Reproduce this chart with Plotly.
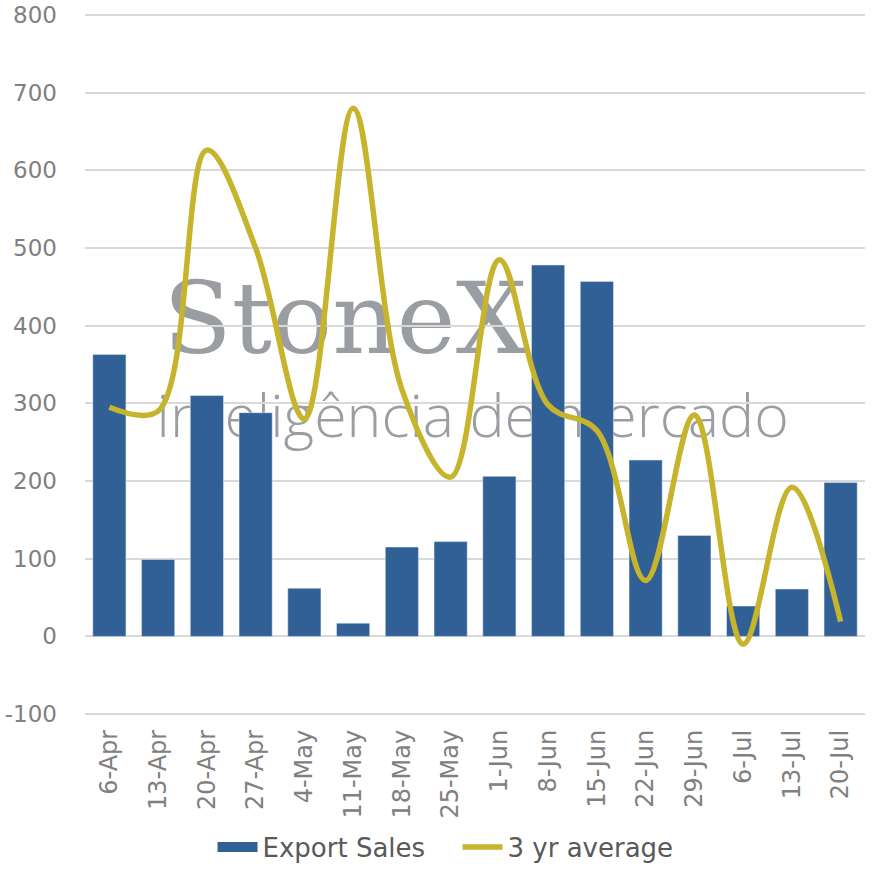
import plotly.graph_objects as go

categories = ["6-Apr", "13-Apr", "20-Apr", "27-Apr", "4-May", "11-May", "18-May", "25-May",
              "1-Jun", "8-Jun", "15-Jun", "22-Jun", "29-Jun", "6-Jul", "13-Jul", "20-Jul"]
export_sales = [363, 99, 310, 288, 62, 17, 115, 122, 206, 478, 457, 227, 130, 39, 61, 198]
avg_3yr = [295, 290, 626, 500, 280, 680, 318, 205, 485, 298, 265, 72, 285, -10, 192, 19]
y_ticks = [-100, 0, 100, 200, 300, 400, 500, 600, 700, 800]
y_tick_text = ["-100", "0", "100", "200", "300", "400", "500", "600", "700", "800"]

idx = list(range(len(categories)))
boundaries = [i - 0.5 for i in range(len(categories) + 1)]
BAR = "#316096"
LINE = "#C6B42C"
GRAY = "#808080"
FONT = "DejaVu Sans"
WM = "#9A9EA3"

Y_LO, Y_HI = -102.5, 802.5  # small padding so the end gridlines are drawn

fig = go.Figure()
fig.add_trace(go.Bar(x=idx, y=export_sales, name="Export Sales", marker_color=BAR,
                     width=0.68, showlegend=False))
# legend proxy for the bar series (wide rectangle swatch)
fig.add_trace(go.Scatter(x=[None], y=[None], name="Export Sales", mode="lines",
                         line=dict(color=BAR, width=16)))
fig.add_trace(go.Scatter(x=idx, y=avg_3yr, name="3 yr average", mode="lines",
                         line=dict(color=LINE, width=5.5, shape="spline", smoothing=1.0)))

fig.update_layout(
    width=886, height=886,
    margin=dict(l=85, r=21, t=13, b=170, autoexpand=False),
    paper_bgcolor="white", plot_bgcolor="rgba(0,0,0,0)",
    font=dict(family=FONT, color=GRAY),
    showlegend=True,
    legend=dict(orientation="h", x=0.4776, xanchor="center", yref="container",
                y=1 - 847 / 886, yanchor="middle",
                font=dict(size=26, color="#595959", family=FONT),
                traceorder="normal", itemwidth=40, entrywidth=190),
    xaxis=dict(tickmode="array", tickvals=idx, ticktext=categories, range=[-0.5, 15.5],
               tickangle=-90, tickfont=dict(size=24, color=GRAY), showgrid=False,
               zeroline=False, showline=False, ticks="", ticklabelstandoff=8,
               automargin=False),
    xaxis2=dict(overlaying="x", anchor="free", position=(0 - Y_LO) / (Y_HI - Y_LO),
                range=[-0.5, 15.5],
                tickmode="array", tickvals=boundaries, showticklabels=False,
                ticks="outside", ticklen=9, tickwidth=1.5, tickcolor="#D9D9D9",
                showline=True, linecolor="#D9D9D9", linewidth=2, showgrid=False,
                zeroline=False, automargin=False),
    yaxis=dict(range=[Y_LO, Y_HI], tickmode="array", tickvals=y_ticks, ticktext=y_tick_text,
               tickfont=dict(size=23, color=GRAY),
               gridcolor="#D9D9D9", gridwidth=2, zeroline=False,
               showline=False, ticks="", ticklabelstandoff=27, automargin=False),
    shapes=[
        dict(type="rect", xref="paper", yref="paper", x0=0.0, x1=0.667, y0=0.536, y1=0.616,
             line=dict(width=0), fillcolor="rgba(0,0,0,0)", layer="below",
             label=dict(text="StoneX", textposition="middle center",
                        font=dict(family="DejaVu Serif", size=100, color=WM))),
        dict(type="rect", xref="paper", yref="paper", x0=0.0, x1=0.994, y0=0.384, y1=0.464,
             line=dict(width=0), fillcolor="rgba(0,0,0,0)", layer="below",
             label=dict(text="inteligência de mercado", textposition="middle center",
                        font=dict(family="Open Sans", size=59, color=WM, weight=300))),
    ],
)

fig.write_html("out.html", config={"displayModeBar": False},
               post_script="document.body.style.margin='0px';")
